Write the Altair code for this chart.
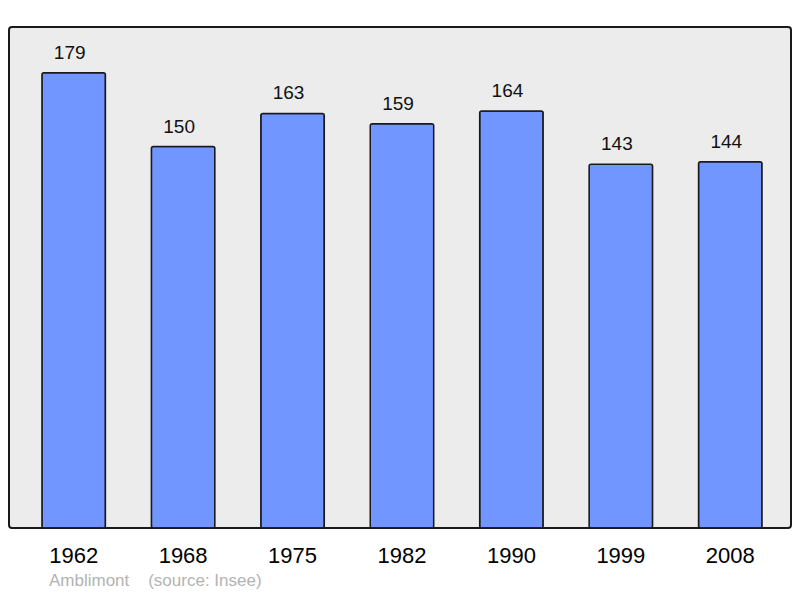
import altair as alt
import pandas as pd

years = ["1962", "1968", "1975", "1982", "1990", "1999", "2008"]
population = [179, 150, 163, 159, 164, 143, 144]
caption = "Amblimont\u00a0\u00a0\u00a0\u00a0(source: Insee)"

df = pd.DataFrame({"year": years, "pop": population})

x = alt.X("year:O", sort=years, title=None,
          scale=alt.Scale(paddingInner=0.42, paddingOuter=0.283, align=0.532),
          axis=alt.Axis(labelAngle=0, domain=False, ticks=False, labelPadding=17,
                        labelFontSize=22, labelColor="#000000", labelFont="Liberation Sans"))
y = alt.Y("pop:Q", title=None, scale=alt.Scale(domain=[0, 197], nice=False, zero=True), axis=None)

bars = alt.Chart(df).mark_bar(color="#7196ff", stroke="#1a1a1a", strokeWidth=1.5,
                              cornerRadius=2).encode(x=x, y=y)
labels = alt.Chart(df).mark_text(dx=-4, dy=-20, fontSize=19, font="Liberation Sans",
                                 color="#111111").encode(x=x, y=y, text="pop:Q")

chart = (bars + labels).properties(
    width=782, height=501,
    autosize=alt.AutoSizeParams(type="none"),
    padding={"left": 1, "top": 19, "right": 1, "bottom": 62},
    title=alt.TitleParams(text=caption, orient="bottom", anchor="start", fontSize=17,
                          font="Liberation Sans", fontWeight="normal", color="#b3b3b3",
                          offset=7, dx=40),
).configure(background="#ffffff").configure_view(
    fill="#ececec", stroke="#1a1a1a", strokeWidth=2, cornerRadius=3
)

chart.save("out.html", embed_options={"renderer": "svg", "actions": False})
